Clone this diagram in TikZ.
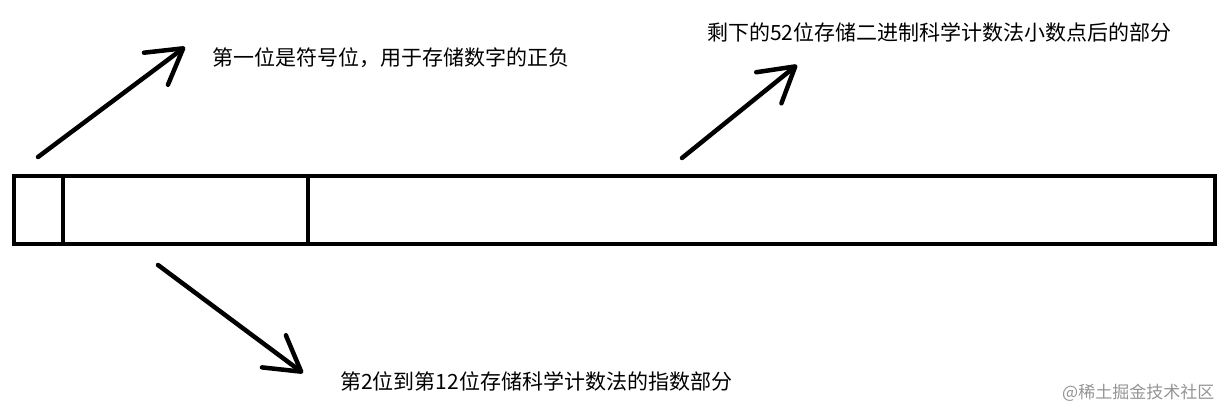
\documentclass[tikz,border=0pt]{standalone}
\usepackage{fontspec}
\newfontfamily\cjk{Noto Sans CJK SC}
\usetikzlibrary{arrows.meta}

\begin{document}
\begin{tikzpicture}[x=1pt,y=-1pt]
        \useasboundingbox (0,0) rectangle (1226,410);
        \begin{scope}[every node/.style={rectangle,draw=black,line width=4.5pt,minimum height=68pt,inner sep=0pt}]
          \node[minimum width=49pt] (sign) at (38.5,210) {};
          \node[minimum width=245pt] (expo) at (185.5,210) {};
          \node[minimum width=907pt] (frac) at (761.5,210) {};
        \end{scope}
        \begin{scope}[every node/.style={anchor=west,inner sep=0pt,font=\cjk\fontsize{21}{25}\selectfont}]
          \node[] (signtxt) at (212,58) {第一位是符号位，用于存储数字的正负};
          \node[] (fractxt) at (707,32) {剩下的52位存储二进制科学计数法小数点后的部分};
          \node[] (expotxt) at (340,381) {第2位到第12位存储科学计数法的指数部分};
          \node[text=black!42,font=\cjk\fontsize{17}{20}\selectfont] (mark) at (1062,393) {@稀土掘金技术社区};
        \end{scope}
        \coordinate (s0) at (38,157);
        \coordinate (s1) at (185,47);
        \coordinate (f0) at (682,158);
        \coordinate (f1) at (797,65);
        \coordinate (e0) at (158,265);
        \coordinate (e1) at (303,373);
        \begin{scope}[every edge/.style={draw=black,line width=4.5pt,line cap=round,-{Straight Barb[length=34pt,width=40pt,round]}}]
          \path (s0) edge (s1);
          \path (f0) edge (f1);
          \path (e0) edge (e1);
        \end{scope}
      \end{tikzpicture}
\end{document}
